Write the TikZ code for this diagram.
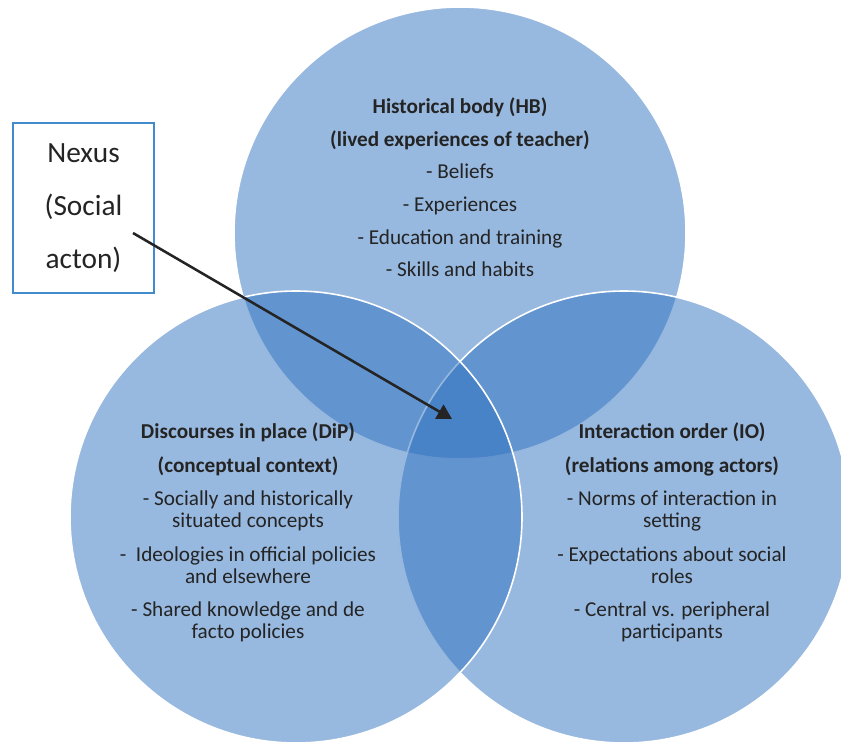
\documentclass[tikz,border=0pt]{standalone}
\usepackage{fontspec}
\setmainfont{Carlito}
\usetikzlibrary{arrows.meta,
	positioning}
\definecolor{vennblue}{RGB}{47,113,191}
\definecolor{nexusblue}{RGB}{66,140,206}
\definecolor{ink}{RGB}{36,36,36}
\tikzstyle{vc}=[circle, draw=white, line width=1.2pt, fill=vennblue, fill opacity=0.5,
		minimum size=339pt, inner sep=0]
\tikzstyle{vt}=[align=center, text=ink, inner sep=0, anchor=north,
		font=\fontsize{15.9}{16.5}\selectfont]
\tikzstyle{nb}=[draw=nexusblue, line width=1.5pt, fill=white, align=center, text=ink,
		minimum width=105.75pt, minimum height=127.5pt, inner sep=0,
		font=\fontsize{22}{39.75}\selectfont]

\begin{document}
\begin{tikzpicture}[x=0.75pt,y=-0.75pt]
            \useasboundingbox (0,0) rectangle (841,742);
            \clip (0,0) rectangle (841,742);
            \node[vc] (hb) at (460,233) {};
            \node[vc] (io) at (624,517) {};
            \node[vc] (dip) at (296,517) {};
            \node[vt] (hbtext) at (460,97.5) {\textbf{Historical body (HB)}\\[8pt]
                \textbf{(lived experiences of teacher)}\\[8pt]
                - Beliefs\\[8pt]
                - Experiences\\[8pt]
                - Education and training\\[8pt]
                - Skills and habits};
            \node[vt] (diptext) at (248,422.5) {\textbf{Discourses in place (DiP)}\\[9pt]
                \textbf{(conceptual context)}\\[8.5pt]
                - Socially and historically\\ situated concepts\\[8.5pt]
                -\ \ Ideologies in official policies\\ and elsewhere\\[8.5pt]
                - Shared knowledge and de\\ facto policies};
            \node[vt] (iotext) at (672,422.5) {\textbf{Interaction order (IO)}\\[9pt]
                \textbf{(relations among actors)}\\[8.5pt]
                - Norms of interaction in\\ setting\\[8.5pt]
                - Expectations about social\\ roles\\[8.5pt]
                - Central vs. peripheral\\ participants};
            \node[nb] (nexus) at (83.5,208) {Nexus\\(Social\\acton)};
            \coordinate (nexus tail) at (133,233);
            \coordinate (nexus tip) at (452,419);
            \draw[-{Triangle[length=11pt,width=12pt]}, line width=1.9pt, ink] (nexus tail) -- (nexus tip);
        \end{tikzpicture}
\end{document}
